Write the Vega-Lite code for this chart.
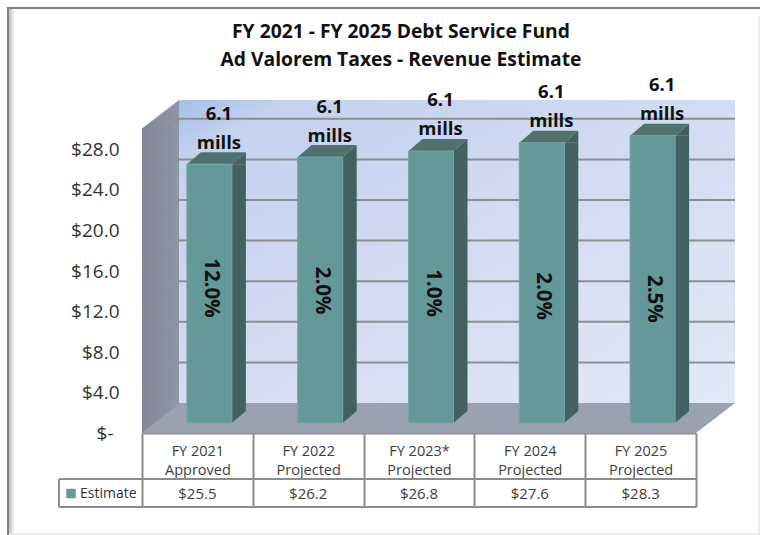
{
"$schema":"https://vega.github.io/schema/vega-lite/v6.json",
"width":554,"height":304.5,
"autosize":"none",
"padding":{"left":142,"top":128.5,"right":64,"bottom":102},
"background":"white",
"config":{"view":{"stroke":null},"font":"Open Sans"},
"title":{"text":["FY 2021 - FY 2025 Debt Service Fund","Ad Valorem Taxes - Revenue Estimate"],"anchor":"middle","dx":-18,"offset":-63,"fontSize":19.3,"fontWeight":"bold","font":"Open Sans","color":"#111111","lineHeight":28},
"data":{"values":[
{"period":"FY 2021\nApproved","series":"Estimate","value":25.5,"change":"12.0%","mills":"6.1 mills"},
{"period":"FY 2022\nProjected","series":"Estimate","value":26.2,"change":"2.0%","mills":"6.1 mills"},
{"period":"FY 2023*\nProjected","series":"Estimate","value":26.8,"change":"1.0%","mills":"6.1 mills"},
{"period":"FY 2024\nProjected","series":"Estimate","value":27.6,"change":"2.0%","mills":"6.1 mills"},
{"period":"FY 2025\nProjected","series":"Estimate","value":28.3,"change":"2.5%","mills":"6.1 mills"}
]},
"layer":[
{"data":{"values":[{"base":0}]},
 "mark":{"type":"point","filled":true,"opacity":1,"stroke":null,"fill":{"gradient":"linear","x1":0,"y1":0,"x2":1,"y2":1,"stops":[{"offset":0,"color":"#a6bee9"},{"offset":0.1,"color":"#c4d2ee"},{"offset":0.5,"color":"#d2dcf2"},{"offset":1,"color":"#e2e8f6"}]},"shape":"M37,-333H593V-30H37Z","size":4},
 "encoding":{"x":{"value":0},"y":{"field":"base","type":"quantitative","scale":{"domain":[0,30],"nice":false},"title":null,"axis":{"values":[0,4,8,12,16,20,24,28],"format":"$.1f","labelExpr":"datum.value==0?'$-':datum.label","labelFontSize":19,"labelColor":"#333333","labelPadding":{"condition":{"test":"datum.value==0","value":29},"value":23},"labelOffset":0.5,"ticks":false,"domain":false,"grid":false,"labelFont":"Open Sans"}}}},
{"data":{"values":[{"base":0}]},
 "mark":{"type":"point","filled":true,"opacity":1,"stroke":null,"fill":{"gradient":"linear","x1":0,"y1":0,"x2":1,"y2":0,"stops":[{"offset":0,"color":"#7f8798"},{"offset":1,"color":"#8f97a6"}]},"shape":"M0,0V-304.5L37,-333V-30Z","size":4},
 "encoding":{"x":{"value":0},"y":{"field":"base","type":"quantitative"}}},
{"data":{"values":[{"base":0}]},
 "mark":{"type":"point","filled":true,"opacity":1,"stroke":null,"fill":"#9aa2b2","shape":"M0,0L37,-30H593L554,0Z","size":4},
 "encoding":{"x":{"value":0},"y":{"field":"base","type":"quantitative"}}},
{"data":{"values":[{"tick":0},{"tick":4},{"tick":8},{"tick":12},{"tick":16},{"tick":20},{"tick":24},{"tick":28}]},
 "mark":{"type":"point","filled":false,"opacity":1,"stroke":"#8f8b84","strokeWidth":1,"shape":"M0,0L37,-30","size":4},
 "encoding":{"x":{"value":0},"y":{"field":"tick","type":"quantitative"}}},
{"data":{"values":[{"tick":4},{"tick":8},{"tick":12},{"tick":16},{"tick":20},{"tick":24},{"tick":28}]},
 "mark":{"type":"point","filled":false,"opacity":1,"stroke":"#8c8e91","strokeWidth":2,"shape":"M37,-30H593","size":4},
 "encoding":{"x":{"value":0},"y":{"field":"tick","type":"quantitative"}}},
{"data":{"values":[{"base":0}]},
 "mark":{"type":"point","filled":false,"opacity":1,"stroke":"#8c8c8c","strokeWidth":2,"shape":"M-83,46H554M-83,74H554M-83,46V74","size":4},
 "encoding":{"x":{"value":0},"y":{"field":"base","type":"quantitative"}}},
{"data":{"values":[{"base":0}]},
 "mark":{"type":"point","filled":true,"opacity":1,"stroke":null,"fill":"#808080","shape":"M-135,-426H618V-424H-133V102H-135Z","size":4},
 "encoding":{"x":{"value":0},"y":{"field":"base","type":"quantitative"}}},
{"data":{"values":[{"base":0}]},
 "mark":{"type":"point","filled":true,"opacity":1,"stroke":null,"fill":{"gradient":"linear","x1":0,"y1":0,"x2":1,"y2":0,"stops":[{"offset":0,"color":"#bdbdbd"},{"offset":1,"color":"#ffffff"}]},"shape":"M-133,-424H-127V102H-133Z","size":4},
 "encoding":{"x":{"value":0},"y":{"field":"base","type":"quantitative"}}},
{"data":{"values":[{"base":0}]},
 "mark":{"type":"point","filled":true,"opacity":1,"stroke":null,"fill":"#ececec","shape":"M-133,100H618V102H-133ZM616,-417H618V102H616Z","size":4},
 "encoding":{"x":{"value":0},"y":{"field":"base","type":"quantitative"}}},
{"mark":{"type":"bar","size":14,"color":"#426261","xOffset":41.5,"yOffset":-10,"y2Offset":-22},
 "encoding":{"x":{"field":"period","type":"nominal","sort":null},"y":{"field":"value","type":"quantitative"},"y2":{"datum":0}}},
{"mark":{"type":"point","filled":true,"opacity":1,"stroke":null,"fill":"#426261","shape":"M34.5,-10L48.5,-22V-10Z","size":4},
 "encoding":{"x":{"field":"period","type":"nominal","sort":null},"y":{"field":"value","type":"quantitative"}}},
{"mark":{"type":"point","filled":true,"opacity":1,"stroke":null,"fill":"#426261","shape":"M34.5,-22H48.5L34.5,-10Z","size":4},
 "encoding":{"x":{"field":"period","type":"nominal","sort":null},"y":{"datum":0}}},
{"mark":{"type":"point","filled":true,"opacity":1,"stroke":null,"fill":"#4f716f","shape":"M-10.5,-10H34.5L48.5,-22H3.5Z","size":4},
 "encoding":{"x":{"field":"period","type":"nominal","sort":null},"y":{"field":"value","type":"quantitative"}}},
{"mark":{"type":"bar","size":45,"xOffset":12,"yOffset":-10,"y2Offset":-10,"stroke":"#76a3a3","strokeWidth":1},
 "encoding":{
  "x":{"field":"period","type":"nominal","sort":null,"title":null,"scale":{"type":"band","paddingInner":0,"paddingOuter":0},
   "axis":{"labelExpr":"split(datum.label,'\\n')","labelAngle":0,"labelAlign":"center","labelFontSize":14.5,"labelColor":"#404040","labelLineHeight":19,"labelBaseline":"top","labelPadding":-63,"tickSize":74,"tickWidth":2,"tickColor":"#8c8c8c","tickBand":"extent","domainColor":"#8c8c8c","domainWidth":2,"labelFont":"Open Sans","labelOverlap":false,"labelBound":false,"labelFlush":false}},
  "y":{"field":"value","type":"quantitative"},"y2":{"datum":0},
  "color":{"field":"series","type":"nominal","scale":{"range":["#659999"]},
   "legend":{"orient":"none","legendX":-78,"legendY":358,"title":null,"symbolType":"square","symbolSize":90,"symbolStrokeWidth":0,"labelFontSize":14,"labelColor":"#333333","labelFont":"Open Sans","padding":0,"labelOffset":2}}}},
{"mark":{"type":"text","angle":90,"fontSize":20.5,"fontWeight":"bold","color":"#111111","xOffset":13.5,"baseline":"middle","align":"center"},
 "encoding":{"x":{"field":"period","type":"nominal","sort":null},"y":{"datum":14},
  "yOffset":{"field":"value","type":"quantitative","scale":{"domain":[25.5,28.3],"range":[-3,8],"zero":false,"nice":false}},
  "text":{"field":"change"}}},
{"mark":{"type":"text","fontSize":18.5,"fontWeight":"bold","color":"#111111","xOffset":21.5,"dy":-60.5,"lineBreak":" ","lineHeight":29,"baseline":"middle","align":"center"},
 "encoding":{"x":{"field":"period","type":"nominal","sort":null},"y":{"field":"value","type":"quantitative"},"text":{"field":"mills"}}},
{"mark":{"type":"text","fontSize":15,"color":"#404040","dy":60.5,"baseline":"middle","align":"center"},
 "encoding":{"x":{"field":"period","type":"nominal","sort":null},"y":{"datum":0},"text":{"field":"value","type":"quantitative","format":"$.1f"}}}
]
}
